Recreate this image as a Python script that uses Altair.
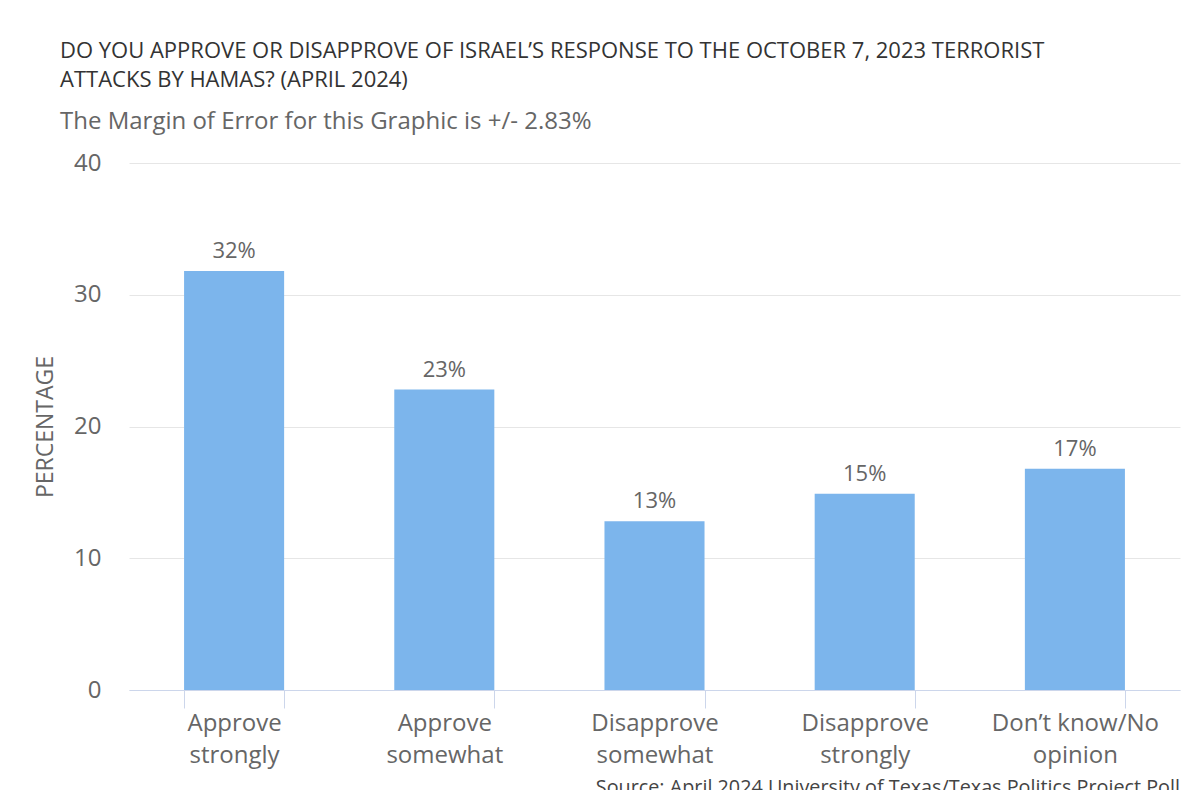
import altair as alt
import pandas as pd

categories = ["Approve strongly", "Approve somewhat", "Disapprove somewhat",
              "Disapprove strongly", "Don\u2019t know/No opinion"]
values = [31.8, 22.8, 12.8, 14.9, 16.8]
labels = ["32%", "23%", "13%", "15%", "17%"]
y_ticks = [0, 10, 20, 30, 40]

df = pd.DataFrame({"category": categories, "value": values, "label": labels})

FONT = "Open Sans"
W, H = 1051, 527

base = alt.Chart(df).encode(
    x=alt.X(
        "category:N",
        sort=categories,
        scale=alt.Scale(paddingInner=0.524, paddingOuter=0.262),
        axis=alt.Axis(
            title=None,
            labelAngle=0,
            labelFont=FONT,
            labelFontSize=24,
            labelColor="#666666",
            labelLineHeight=32,
            labelBaseline="top",
            labelPadding=3,
            labelExpr="[slice(datum.label, 0, lastindexof(datum.label, ' ')), slice(datum.label, lastindexof(datum.label, ' ') + 1)]",
            domainColor="#ccd6eb",
            domainWidth=1,
            tickColor="#ccd6eb",
            tickSize=18,
            tickWidth=1,
            tickBand="extent",
            grid=False,
        ),
    ),
    y=alt.Y(
        "value:Q",
        scale=alt.Scale(domain=[0, 40], nice=False),
        axis=alt.Axis(
            title="PERCENTAGE",
            values=y_ticks,
            titleFont=FONT,
            titleFontSize=23,
            titleFontWeight="normal",
            titleColor="#666666",
            titlePadding=16,
            labelFont=FONT,
            labelFontSize=24,
            labelColor="#666666",
            labelPadding=28,
            domain=False,
            ticks=False,
            gridColor="#e6e6e6",
            gridWidth=1,
        ),
    ),
)

bars = base.mark_bar(color="#7cb5ec")

text = base.mark_text(
    baseline="bottom", dy=-8, font=FONT, fontSize=22, color="#666666"
).encode(text="label:N")

source = alt.Chart(pd.DataFrame({"t": ["Source: April 2024 University of Texas/Texas Politics Project Poll"]})).mark_text(
    align="right", baseline="alphabetic", font=FONT, fontSize=19.8, color="#444444"
).encode(text="t:N", x=alt.value(W), y=alt.value(H + 104))

chart = alt.layer(bars, text, source).properties(
    width=W,
    height=H,
    background="white",
    autosize=alt.AutoSizeParams(type="none"),
    padding={"left": 121, "top": 155, "right": 12, "bottom": 100},
    title=alt.TitleParams(
        text=["DO YOU APPROVE OR DISAPPROVE OF ISRAEL\u2019S RESPONSE TO THE OCTOBER 7, 2023 TERRORIST",
              "ATTACKS BY HAMAS? (APRIL 2024)"],
        subtitle="The Margin of Error for this Graphic is +/- 2.83%",
        anchor="start",
        frame="group",
        font=FONT,
        fontSize=22,
        fontWeight="normal",
        color="#333333",
        lineHeight=29,
        subtitleFont=FONT,
        subtitleFontSize=24,
        subtitleColor="#666666",
        subtitlePadding=18,
        dx=-69,
        offset=16,
    ),
).configure_view(strokeWidth=0)

chart.save("out.html", embed_options={"renderer": "svg", "actions": False})
